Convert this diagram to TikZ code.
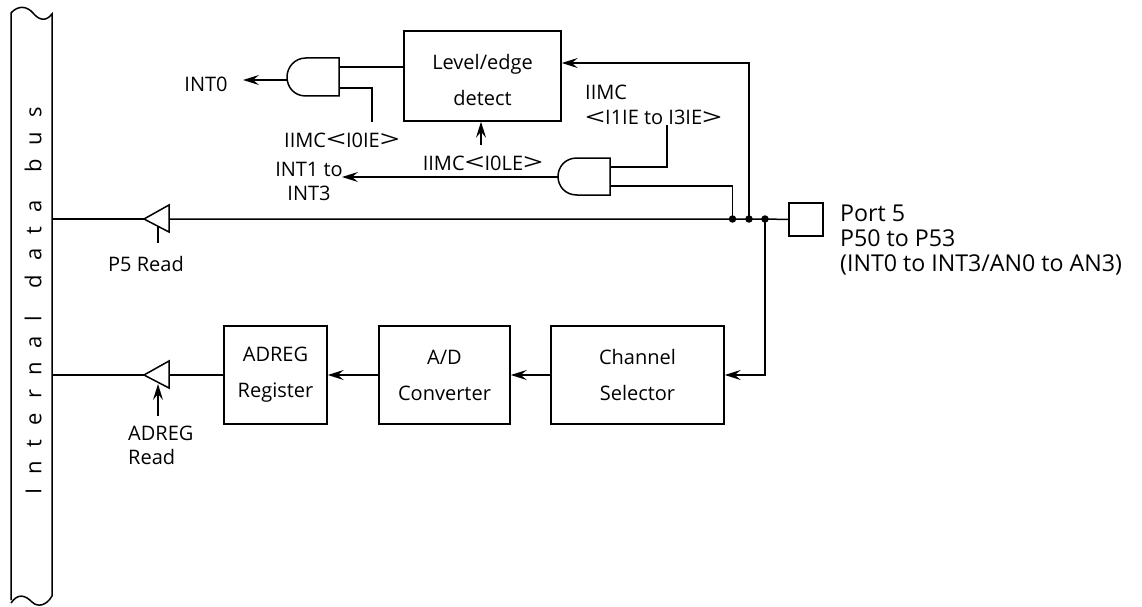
\documentclass[tikz,border=0pt]{standalone}
\usepackage{fontspec}
\setmainfont{Open Sans}
\usetikzlibrary{arrows.meta}
\tikzset{
  wire/.style={line width=1.5pt,line join=miter},
  arr/.style={wire,-{Stealth[length=16pt,width=10pt,inset=6pt]}},
  blockbox/.style={draw,line width=1.5pt,inner sep=0pt,align=center},
  lbl/.style={inner sep=0pt,font=\fontsize{20}{24}\selectfont,align=center},
  portlbl/.style={inner sep=0pt,anchor=north west,align=left,font=\fontsize{23.2}{25}\selectfont},
  jdot/.style={circle,fill=black,inner sep=0pt,minimum size=7.5pt},
}
\newcommand{\ltsym}{\raisebox{-0.5pt}{\scalebox{1.75}[1.15]{<}}}
\newcommand{\gtsym}{\raisebox{-0.5pt}{\scalebox{1.75}[1.15]{>}}}
\begin{document}
\begin{tikzpicture}[x=1pt,y=-1pt]
\useasboundingbox (0,0) rectangle (1142,607);
% bus
\draw[wire] (11,600) -- (11,13) .. controls (18,5) and (27,6) .. (33,13) .. controls (38,19) and (45,23) .. (52,14) -- (52,596) .. controls (47,605) and (38,608) .. (32,602) .. controls (25,595) and (18,593) .. (11,603);
\node[rotate=90,inner sep=0pt,font=\fontsize{22}{24}\selectfont\addfontfeature{LetterSpace=64}] (bus) at (33,301) {Internal\hspace{8pt} data\hspace{8pt} bus};
% blocks
\node[blockbox,minimum width=157pt,minimum height=90pt,font=\fontsize{20}{36}\selectfont] (lvl) at (482.5,76) {\rule{0pt}{23pt}Level/edge\\detect};
\node[blockbox,minimum width=103pt,minimum height=98pt,font=\fontsize{20}{36}\selectfont] (reg) at (275.5,375) {ADREG\\Register};
\node[blockbox,minimum width=131pt,minimum height=98pt,font=\fontsize{20}{36}\selectfont] (adc) at (444.5,375) {A/D\\Converter};
\node[blockbox,minimum width=173pt,minimum height=98pt,font=\fontsize{20}{36}\selectfont] (sel) at (637.5,375) {Channel\\Selector};
\node[blockbox,minimum width=34pt,minimum height=33pt] (port) at (806,219.5) {};
% gates
\draw[wire] (339,58) -- (306,58) .. controls (294,58) and (287,68) .. (287,77) .. controls (287,87) and (294,96) .. (306,96) -- (339,96) -- cycle;
\draw[wire] (610,158) -- (577,158) .. controls (565,158) and (558,167) .. (558,176.5) .. controls (558,186) and (565,195) .. (577,195) -- (610,195) -- cycle;
\coordinate (g1o) at (287,80);
\coordinate (g1a) at (339,67);
\coordinate (g1b) at (339,88);
\coordinate (g2o) at (558,177);
\coordinate (g2a) at (610,167);
\coordinate (g2b) at (610,186);
% buffers
\draw[wire] (169,205) -- (144,219) -- (169,232) -- cycle;
\draw[wire] (169,361) -- (144,375) -- (169,388) -- cycle;
\coordinate (b1t) at (144,219);
\coordinate (b1r) at (169,219);
\coordinate (b2t) at (144,375);
\coordinate (b2r) at (169,375);
% dots
\node[jdot] (d1) at (732.5,219) {};
\node[jdot] (d2) at (749,219) {};
\node[jdot] (d3) at (765,219) {};
% labels
\node[lbl] (int0) at (206,84) {INT0};
\coordinate (int0a) at (243,80);
\node[lbl] (i0ie) at (342,140) {IIMC\ltsym I0IE\gtsym};
\node[lbl] (i0le) at (483,163) {IIMC\ltsym I0LE\gtsym};
\node[lbl] (int1) at (309,181) {INT1 to\\INT3};
\coordinate (int1a) at (342,177);
\node[lbl,anchor=west] (iimc) at (585,92) {IIMC};
\node[lbl,anchor=west] (i1ie) at (585,118) {\ltsym I1IE to I3IE\gtsym};
\node[lbl] (p5r) at (146,264) {P5 Read};
\node[lbl,align=left,anchor=north west] (adr) at (128,426) {ADREG\\Read};
\node[portlbl] (plbl) at (840,205) {Port 5\\P50 to P53\\(INT0 to INT3/AN0 to AN3)};
% connectors
\coordinate (busb1) at (52,219);
\coordinate (busb2) at (52,375);
\draw[wire] (busb1) -- (b1t);
\draw[wire] (busb2) -- (b2t);
\draw[wire] (b1r) -- (d1.center) -- (d2.center) -- (d3.center) -- (port.west);
\draw[wire] (reg.west) -- (b2r);
\draw[arr] (adc.west) -- (reg.east);
\draw[arr] (sel.west) -- (adc.east);
\draw[arr] (d3.center) |- (sel.east);
\draw[arr] (d2.center) |- (lvl.east |- 0,63);
\draw[wire] (d1.center) |- (g2b);
\draw[wire] (g2a) -| (667,125);
\draw[arr] (g2o) -- (int1a);
\draw[wire] (g1a) -- (lvl.west |- g1a);
\draw[wire] (g1b) -| (372,122);
\draw[arr] (g1o) -- (int0a);
\draw[arr] (481,145) -- (lvl.south -| 481,0);
\draw[wire] (158,243) -- (158,226);
\draw[arr] (158,416) -- (158,384);
\end{tikzpicture}
\end{document}
